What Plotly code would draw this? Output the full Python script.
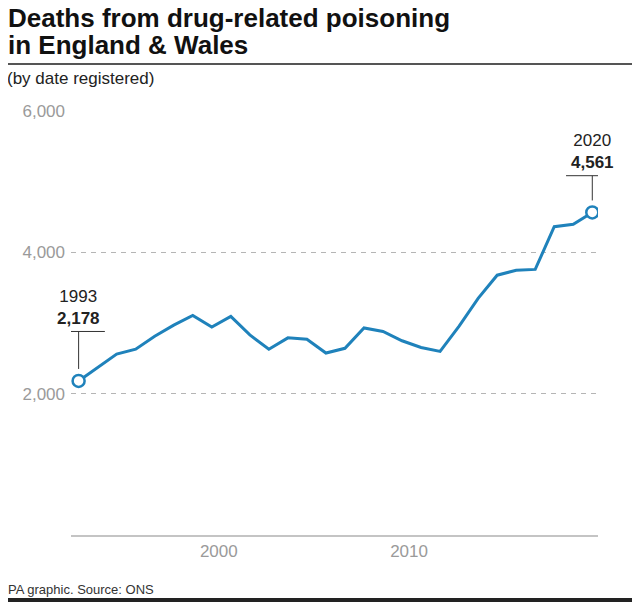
import plotly.graph_objects as go

years = list(range(1993, 2021))
deaths = [2178, 2367, 2559, 2628, 2811, 2967, 3105, 2940, 3092, 2830,
          2626, 2788, 2767, 2573, 2640, 2928, 2878, 2747, 2652, 2597,
          2955, 3346, 3674, 3744, 3756, 4359, 4393, 4561]

y_ticks = [2000, 4000, 6000]
y_tick_text = ["2,000", "4,000", "6,000"]
x_ticks = [2000, 2010]

BLUE = "#1f82bb"
GREY = "#9a9a9a"
FONT = "Liberation Sans"

# page puts the plot 8px in from the corner, so work in screen pixels
OFF = 8
L, T, W, H = 63, 102, 527, 425


def px_x(px):
    return (px - OFF - L) / W


def px_y(py):
    return (T + H - (py - OFF)) / H


fig = go.Figure()

fig.add_trace(go.Scatter(
    x=years, y=deaths, mode="lines",
    line=dict(color=BLUE, width=3),
    hoverinfo="x+y", showlegend=False,
))

# open circles on first and last year
ends_x = [years[0], years[-1]]
ends_y = [deaths[0], deaths[-1]]
fig.add_trace(go.Scatter(
    x=ends_x, y=ends_y, mode="markers",
    marker=dict(size=12, color="white", line=dict(color=BLUE, width=2.5)),
    hoverinfo="skip", showlegend=False,
))

# leader lines for the end labels (how far above the point the bar sits)
lifts = [700, 520]
for yr, val, lift in zip(ends_x, ends_y, lifts):
    fig.add_shape(type="line", xref="x", yref="y",
                  x0=yr, x1=yr, y0=val + 170, y1=val + lift,
                  line=dict(color="#333", width=1))
    fig.add_shape(type="line", xref="x", yref="y",
                  x0=yr - 1.38, x1=yr + 1.38, y0=val + lift, y1=val + lift,
                  line=dict(color="#333", width=1))
    fig.add_annotation(x=yr, y=val + lift + 20, xref="x", yref="y",
                       text=f"{yr}<br><b>{val:,}</b>", showarrow=False,
                       yanchor="bottom", align="center",
                       font=dict(family=FONT, size=17, color="#222"))

# title block
for txt, yc in [("Deaths from drug-related poisoning", 18), ("in England & Wales", 45)]:
    fig.add_annotation(x=px_x(6), y=px_y(yc), xref="paper", yref="paper",
                       xanchor="left", yanchor="middle", text=f"<b>{txt}</b>",
                       showarrow=False, align="left",
                       font=dict(family=FONT, size=26, color="#111"))
fig.add_shape(type="line", xref="paper", yref="paper",
              x0=px_x(0), x1=px_x(640), y0=px_y(64), y1=px_y(64),
              line=dict(color="#555", width=2))
fig.add_annotation(text="(by date registered)", showarrow=False, align="left",
                   font=dict(family=FONT, size=17, color="#222"),
                   xref="paper", yref="paper", xanchor="left", yanchor="middle",
                   x=px_x(5), y=px_y(79))
fig.add_annotation(text="PA graphic. Source: ONS", showarrow=False, align="left",
                   font=dict(family=FONT, size=13, color="#333"),
                   xref="paper", yref="paper", xanchor="left", yanchor="middle",
                   x=px_x(6), y=px_y(589))
fig.add_shape(type="rect", xref="paper", yref="paper",
              x0=px_x(0), x1=px_x(640), y0=px_y(598), y1=px_y(606),
              line=dict(width=0), fillcolor="#222")

fig.update_layout(
    width=640, height=602,
    margin=dict(l=L, r=640 - L - W, t=T, b=602 - T - H),
    paper_bgcolor="white", plot_bgcolor="white",
    font=dict(family=FONT, color=GREY, size=17),
    hovermode="closest",
)

fig.update_xaxes(range=[1992.6, 2020.3], tickvals=x_ticks, showgrid=False,
                 showline=True, linecolor="#c4c4c4", linewidth=1.5,
                 ticks="", ticklabelshift=7, tickfont=dict(size=17, color=GREY),
                 zeroline=False)
fig.update_yaxes(range=[0, 6010], tickvals=y_ticks, ticktext=y_tick_text,
                 showgrid=True, gridcolor="#b5b5b5", gridwidth=1, griddash="5px,5px",
                 zeroline=False, showline=False, ticks="", ticklabelstandoff=5,
                 tickfont=dict(size=17, color=GREY))

fig.write_html("out.html")
